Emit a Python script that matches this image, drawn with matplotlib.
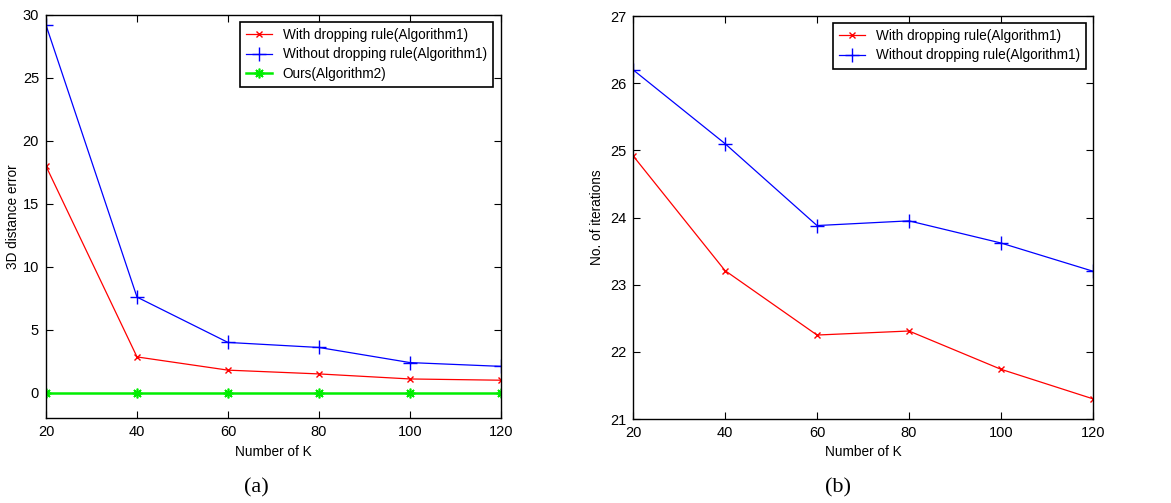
import matplotlib
matplotlib.use('Agg')
import matplotlib.pyplot as plt

plt.rcParams['font.family'] = ['Liberation Sans', 'DejaVu Sans']

# Data
k_values = [20, 40, 60, 80, 100, 120]

# (a) 3D distance error
err_with_drop = [18.0, 2.85, 1.8, 1.5, 1.1, 1.0]
err_without_drop = [29.2, 7.6, 4.0, 3.6, 2.4, 2.1]
err_ours = [0, 0, 0, 0, 0, 0]

# (b) number of iterations
iter_with_drop = [24.92, 23.21, 22.25, 22.31, 21.74, 21.3]
iter_without_drop = [26.2, 25.1, 23.88, 23.95, 23.62, 23.2]

lbl_with = 'With dropping rule(Algorithm1)'
lbl_without = 'Without dropping rule(Algorithm1)'
lbl_ours = 'Ours(Algorithm2)'

fig = plt.figure(figsize=(11.71, 5.03), dpi=100)
ax1 = fig.add_axes([46 / 1171, 1 - 418 / 503, 455 / 1171, 403 / 503])
ax2 = fig.add_axes([633 / 1171, 1 - 419 / 503, 460 / 1171, 403 / 503])


def style_axes(ax):
    ax.tick_params(direction='in', top=True, right=True, labelsize=10.5, length=5, width=0.8, pad=5)
    for s in ax.spines.values():
        s.set_linewidth(1.0)
    ax.set_xlim(20, 120)
    ax.set_xticks(k_values)
    ax.set_xlabel('Number of K', fontsize=9.8, labelpad=4)


def add_legend(ax, right_x):
    leg = ax.legend(loc='upper right', bbox_to_anchor=(right_x, 0.983), borderaxespad=0,
                    fontsize=9.8, fancybox=False, edgecolor='black', framealpha=1,
                    handlelength=1.9, handletextpad=0.8, borderpad=0.45, labelspacing=0.4)
    leg.get_frame().set_linewidth(1.2)


# left panel
ax1.plot(k_values, err_with_drop, color='red', marker='x', markersize=4.5, linewidth=0.9, label=lbl_with)
ax1.plot(k_values, err_without_drop, color='blue', marker='+', markersize=10, linewidth=0.9, label=lbl_without)
ax1.plot(k_values, err_ours, color='#00ee00', marker=(8, 2, 0), markersize=7, markeredgewidth=1.2,
         linewidth=1.8, label=lbl_ours)
style_axes(ax1)
ax1.set_ylim(-2, 30)
ax1.set_yticks([0, 5, 10, 15, 20, 25, 30])
ax1.set_ylabel('3D distance error', fontsize=9.8, labelpad=2)
add_legend(ax1, 0.982)

# right panel
ax2.plot(k_values, iter_with_drop, color='red', marker='x', markersize=4.5, linewidth=0.9, label=lbl_with)
ax2.plot(k_values, iter_without_drop, color='blue', marker='+', markersize=10, linewidth=0.9, label=lbl_without)
style_axes(ax2)
ax2.set_ylim(21, 27)
ax2.set_yticks([21, 22, 23, 24, 25, 26, 27])
ax2.set_ylabel('No. of iterations', fontsize=9.8, labelpad=4)
add_legend(ax2, 0.985)

fig.text(256 / 1171, 1 - 488 / 503, '(a)', family='Liberation Serif', fontsize=16, ha='center', va='center')
fig.text(838 / 1171, 1 - 488 / 503, '(b)', family='Liberation Serif', fontsize=16, ha='center', va='center')

fig.savefig('out.png', dpi=100)
